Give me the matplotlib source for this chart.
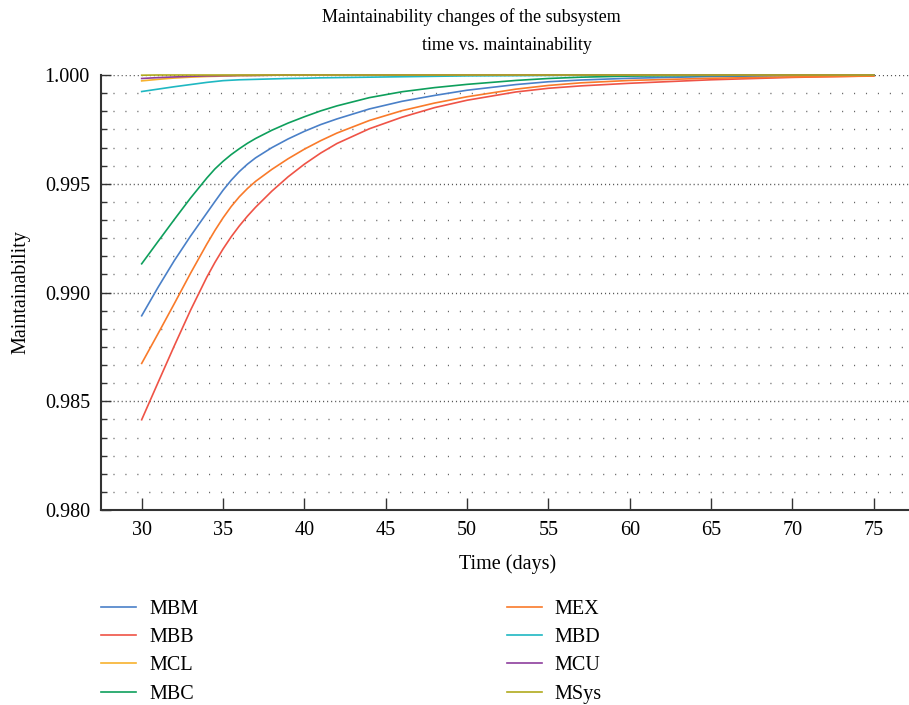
import numpy as np
import matplotlib
matplotlib.use('Agg')
import matplotlib.pyplot as plt
from matplotlib.ticker import FixedLocator, FormatStrFormatter

plt.rcParams['font.family'] = ['Liberation Serif', 'DejaVu Serif']

# time points (days)
t = [30, 31, 32, 33, 34, 34.5, 35, 35.5, 36, 36.5, 37, 38, 39, 40, 41, 42, 44,
     46, 48, 50, 53, 55, 57, 60, 65, 70, 75]

# maintainability of each subsystem
mbm = [0.98893, 0.99023, 0.99146, 0.99259, 0.99365, 0.99418, 0.99470, 0.99516, 0.99556, 0.99590, 0.99619,
       0.99666, 0.99706, 0.99741, 0.99772, 0.99798, 0.99844,
       0.99879, 0.99906, 0.99930, 0.99956, 0.99969, 0.99977, 0.99985, 0.99993, 0.99997, 0.99999]
mbb = [0.98415, 0.98585, 0.98754, 0.98918, 0.99070, 0.99138, 0.99200, 0.99256, 0.99306, 0.99351, 0.99392,
       0.99466, 0.99532, 0.99590, 0.99641, 0.99685, 0.99753,
       0.99806, 0.99850, 0.99884, 0.99922, 0.99939, 0.99950, 0.99962, 0.99978, 0.99989, 0.99996]
mcl = [0.99973, 0.99980, 0.99986, 0.99990, 0.99993, 0.99994, 0.99995, 0.99996, 0.99997, 0.99997, 0.99998,
       0.99999, 1.0, 1.0, 1.0, 1.0, 1.0,
       1.0, 1.0, 1.0, 1.0, 1.0, 1.0, 1.0, 1.0, 1.0, 1.0]
mbc = [0.99132, 0.99234, 0.99335, 0.99434, 0.99526, 0.99568, 0.99603, 0.99634, 0.99661, 0.99686, 0.99708,
       0.99746, 0.99779, 0.99808, 0.99835, 0.99858, 0.99896,
       0.99923, 0.99942, 0.99957, 0.99975, 0.99984, 0.99990, 0.99995, 0.99998, 0.99999, 1.0]
mex = [0.98674, 0.98810, 0.98948, 0.99088, 0.99222, 0.99285, 0.99343, 0.99395, 0.99440, 0.99478, 0.99511,
       0.99566, 0.99615, 0.99659, 0.99698, 0.99733, 0.99791,
       0.99836, 0.99871, 0.99900, 0.99935, 0.99952, 0.99964, 0.99975, 0.99985, 0.99991, 0.99995]
mbd = [0.99924, 0.99935, 0.99946, 0.99956, 0.99966, 0.99970, 0.99974, 0.99976, 0.99978, 0.99979, 0.99980,
       0.99982, 0.99984, 0.99985, 0.99987, 0.99988, 0.99990,
       0.99992, 0.99994, 0.99996, 0.99997, 0.99998, 0.99999, 0.99999, 1.0, 1.0, 1.0]
mcu = [0.99984, 0.99988, 0.99991, 0.99994, 0.99996, 0.99996, 0.99997, 0.99997, 0.99998, 0.99998, 0.99998,
       0.99999, 1.0, 1.0, 1.0, 1.0, 1.0,
       1.0, 1.0, 1.0, 1.0, 1.0, 1.0, 1.0, 1.0, 1.0, 1.0]
msys = [0.99999, 1.0, 1.0, 1.0, 1.0, 1.0, 1.0, 1.0, 1.0, 1.0, 1.0,
        1.0, 1.0, 1.0, 1.0, 1.0, 1.0,
        1.0, 1.0, 1.0, 1.0, 1.0, 1.0, 1.0, 1.0, 1.0, 1.0]

names = ['MBM', 'MBB', 'MCL', 'MBC', 'MEX', 'MBD', 'MCU', 'MSys']
series = [mbm, mbb, mcl, mbc, mex, mbd, mcu, msys]
colors = ['#4a80c8', '#ef5346', '#f7b22e', '#0e9f5c', '#f97a2a', '#1fb8c2', '#8e3e9d', '#b0aa1e']

fig = plt.figure(figsize=(9.09, 7.05), dpi=100)
ax = fig.add_axes([101 / 909, 195 / 705, 813.5 / 909, 435 / 705])

for name, vals, c in zip(names, series, colors):
    ax.plot(t, vals, color=c, lw=1.2, label=name, clip_on=False)

ax.set_xlim(27.5, 77.5)
ax.set_ylim(0.980, 1.000)
ax.set_xticks(np.arange(30, 76, 5))
ax.yaxis.set_major_locator(FixedLocator(np.linspace(0.980, 1.000, 5)))
ax.yaxis.set_minor_locator(FixedLocator(np.linspace(0.980, 1.000, 25)))
ax.yaxis.set_major_formatter(FormatStrFormatter('%.3f'))

# dotted grid, dense on majors, sparse on minors
ax.yaxis.grid(True, which='major', color='#555555', lw=1.0, linestyle=(0, (0.8, 2.1)))
ax.yaxis.grid(True, which='minor', color='#666666', lw=1.0, linestyle=(0, (0.8, 7.8)))
ax.set_axisbelow(True)

for s in ['top', 'right']:
    ax.spines[s].set_visible(False)
for s in ['left', 'bottom']:
    ax.spines[s].set_linewidth(1.5)
    ax.spines[s].set_color('#333333')

ax.tick_params(axis='x', direction='in', length=8.5, width=1.0, color='#333333', labelsize=14.5, pad=8)
ax.tick_params(axis='y', which='major', direction='in', length=7, width=1.0, color='#333333', labelsize=14.5, pad=8)
ax.tick_params(axis='y', which='minor', direction='in', length=4.3, width=1.0, color='#333333')

ax.set_xlabel('Time (days)', fontsize=14.5, labelpad=10)
ax.set_ylabel('Maintainability', fontsize=14.5, labelpad=10)

fig.text(471 / 909, 1 - 17 / 705, 'Maintainability changes of the subsystem', ha='center', va='center', fontsize=13)
fig.text(507 / 909, 1 - 45 / 705, 'time vs. maintainability', ha='center', va='center', fontsize=13)

fig.legend(loc='upper left', bbox_to_anchor=(101 / 909, 1 - 600 / 705), ncol=2, frameon=False,
           fontsize=14.5, handlelength=1.75, handletextpad=0.65, columnspacing=15.3,
           labelspacing=0.45, borderpad=0, borderaxespad=0)

fig.savefig('out.png', dpi=100)
